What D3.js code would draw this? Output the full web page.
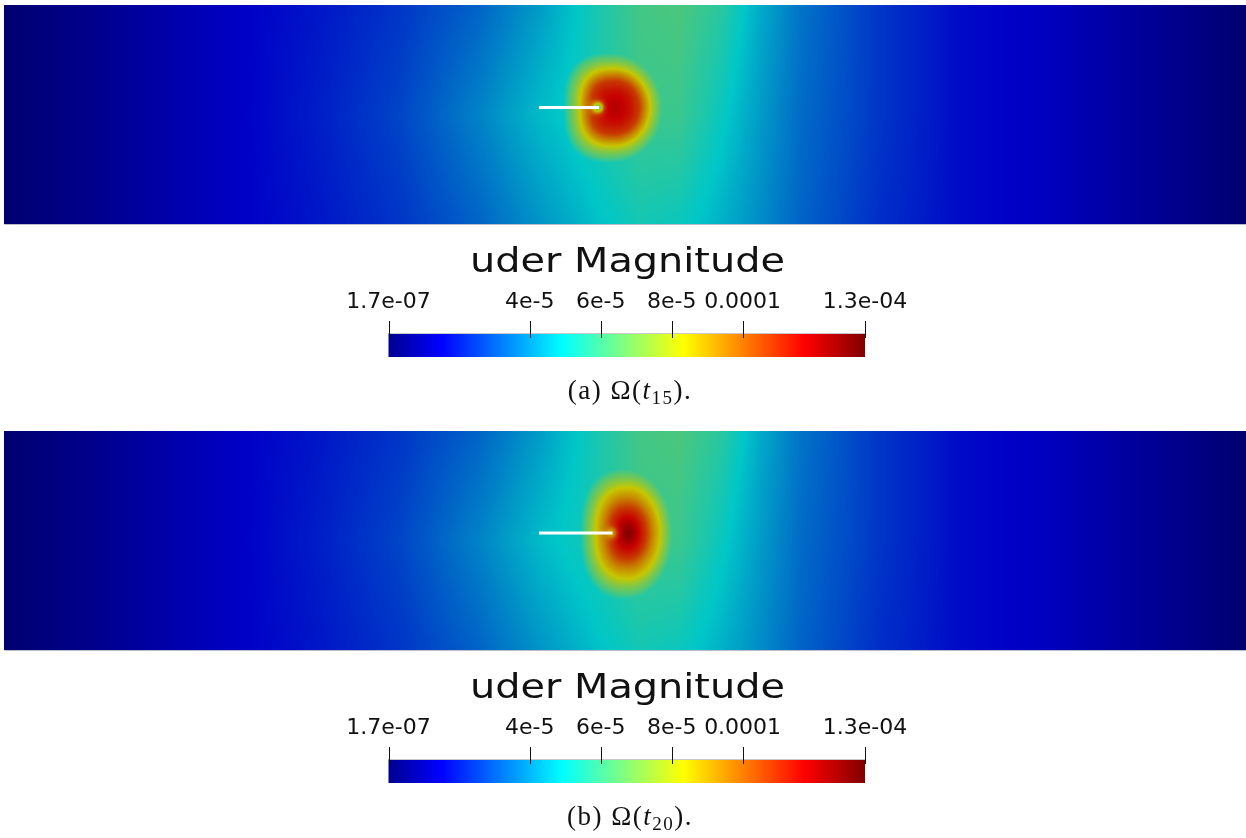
<!DOCTYPE html>
<html>
<head>
<meta charset="utf-8">
<script src="https://cdn.jsdelivr.net/npm/d3@7"></script>
<style>
body{margin:0;background:#fff;}
#wrap{position:relative;width:1246px;height:838px;}
#wrap canvas, #wrap svg{position:absolute;left:0;top:0;}
</style>
</head>
<body>
<div id="wrap"></div>
<script>

// all magnitudes in units of 1e-5
var vMin = 0.017, vMax = 13.45;
var tickValues = [4, 6, 8, 10];
var tickLabels = ["4e-5", "6e-5", "8e-5", "0.0001"];
var endLabels = ["1.7e-07", "1.3e-04"];
var titleText = "uder Magnitude";

// jet colormap (fraction of range -> colour)
var jetStops = [0, 0.111, 0.365, 0.492, 0.619, 0.873, 1];
var jetColors = ["#00008f", "#0000ff", "#00ffff", "#80ff80", "#ffff00", "#ff0000", "#800000"];

// beam is 100 x 17.6 (arbitrary length units), y measured from bottom
var beamW = 100, beamH = 17.6;

// far field, sampled along the beam at three heights (bottom, middle, top)
var bgX   = [0, 7.7, 19, 25.4, 31.9, 38.3, 43.1, 48, 51.2, 54.4, 57.6, 60.9, 64.1, 70.5, 77, 83.4, 89.9, 94.7, 100];
var bgRowY = [0, 8.8, 17.6];
var bgBot = [0.02, 0.54, 1.48, 1.88, 2.42, 3.23, 4.04, 4.84, 5.25, 5.11, 4.57, 3.90, 3.23, 2.29, 1.68, 1.41, 0.87, 0.47, 0.02];
var bgMid = [0.02, 0.54, 1.48, 2.02, 2.69, 3.77, 4.71, 5.38, 5.92, 5.92, 5.11, 4.17, 3.36, 2.42, 1.68, 1.41, 0.87, 0.47, 0.02];
var bgTop = [0.02, 0.54, 1.48, 1.88, 2.42, 3.23, 4.17, 5.38, 6.05, 6.19, 5.65, 4.44, 3.50, 2.42, 1.68, 1.41, 0.87, 0.47, 0.02];

// crack (start, tip) and the hot spot ahead of the tip
var crackA = [[43.05, 9.37], [47.9, 9.37]];
var crackB = [[43.05, 9.4], [48.97, 9.4]];
var peakCenterA = [49.17, 9.37];
var peakCenterB = [50.22, 9.4];
var peakRA = [0, 0.64, 1.29, 1.93, 2.42, 2.82, 3.22, 3.71, 4.51, 6.44];
var peakVA = [12.1, 11.84, 11.43, 10.76, 9.42, 8.34, 7.26, 6.2, 4.0, 0.02];
var peakRB = [0, 0.4, 0.89, 1.45, 2.01, 2.58, 2.98, 3.46, 4.27, 6.44];
var peakVB = [13.03, 12.5, 11.7, 10.76, 9.42, 8.34, 7.26, 6.2, 4.0, 0.02];
// vertical stretch, flatness of the back side, dip at the crack tip (depth, width)
var peakStretch = [1.1, 1.42];
var backFlat = [2.7, 2.4];
var notchA = [2.09, 0.54];
var notchB = [0.97, 0.48];

var captions = [["(a) ", "Ω(", "t", "15", ")."], ["(b) ", "Ω(", "t", "20", ")."]];

var panels = [
  {crack: crackA, center: peakCenterA, r: peakRA, v: peakVA, stretch: peakStretch[0], flat: backFlat[0], notch: notchA, caption: captions[0], dy: 0},
  {crack: crackB, center: peakCenterB, r: peakRB, v: peakVB, stretch: peakStretch[1], flat: backFlat[1], notch: notchB, caption: captions[1], dy: 426}
];

var W = 1246, H = 838;
var shade = 0.78;   // lighting on the rendered surface

var wrap = d3.select("#wrap");
var canvas = wrap.append("canvas").attr("width", W).attr("height", H);
var ctx = canvas.node().getContext("2d");
var svg = wrap.append("svg").attr("width", W).attr("height", H);

var color = d3.scaleLinear()
  .domain(jetStops.map(function(s){ return vMin + s * (vMax - vMin); }))
  .range(jetColors)
  .interpolate(d3.interpolateRgb)
  .clamp(true);

// lookup table
var lutN = 1024, lut = [];
for (var k = 0; k < lutN; k++) {
  lut.push(d3.rgb(color(vMin + k / (lutN - 1) * (vMax - vMin))));
}
var lutIndex = d3.scaleLinear().domain([vMin, vMax]).rangeRound([0, lutN - 1]).clamp(true);

var rowScales = [bgBot, bgMid, bgTop].map(function(row){
  return d3.scaleLinear().domain(bgX).range(row);
});

panels.forEach(function(p){
  var x = d3.scaleLinear().domain([0, beamW]).range([4.5, 1246]);
  var y = d3.scaleLinear().domain([0, beamH]).range([224 + p.dy, 5 + p.dy]);
  var peak = d3.scaleLinear().domain(p.r).range(p.v).clamp(true);

  var x0 = 4, x1 = 1246, y0 = 5 + p.dy, y1 = 224 + p.dy;
  var w = x1 - x0, h = y1 - y0;
  var img = ctx.createImageData(w, h);
  var tip = p.crack[1];

  for (var i = 0; i < w; i++) {
    var u = x.invert(x0 + i + 0.5);
    var col = d3.scaleLinear().domain(bgRowY).range(rowScales.map(function(s){ return s(u); }));
    for (var j = 0; j < h; j++) {
      var v = y.invert(y0 + j + 0.5);
      var bg = col(v);
      var dx = Math.abs(u - p.center[0]), dyy = Math.abs(v - p.center[1]) / p.stretch;
      var r;
      if (u < p.center[0]) {
        r = Math.pow(Math.pow(dx, p.flat) + Math.pow(dyy, p.flat), 1 / p.flat);
      } else {
        r = Math.sqrt(dx * dx + dyy * dyy);
      }
      var tx = u - tip[0], ty = v - tip[1];
      var dt = Math.sqrt(tx * tx + ty * ty) / p.notch[1];
      r += p.notch[0] * Math.exp(-dt * dt);
      var val = Math.max(bg, peak(r));
      var c = lut[lutIndex(val)];
      var o = (j * w + i) * 4;
      img.data[o] = c.r * shade;
      img.data[o + 1] = c.g * shade;
      img.data[o + 2] = c.b * shade;
      img.data[o + 3] = 255;
    }
  }
  ctx.putImageData(img, x0, y0);

  var g = svg.append("g");

  // faint mesh edge at the bottom
  g.append("line")
    .attr("x1", x(0)).attr("x2", x(beamW))
    .attr("y1", y(0) + 0.5).attr("y2", y(0) + 0.5)
    .attr("stroke", "#b8bccb").attr("stroke-width", 1);

  // crack
  g.append("line")
    .attr("x1", x(p.crack[0][0])).attr("y1", y(p.crack[0][1]))
    .attr("x2", x(p.crack[1][0])).attr("y2", y(p.crack[1][1]))
    .attr("stroke", "#ffffff")
    .attr("stroke-width", 3);

  // colour bar
  var cb = d3.scaleLinear().domain([vMin, vMax]).range([388.5, 865]);
  var gradId = "grad" + p.dy;
  var grad = svg.append("defs").append("linearGradient")
    .attr("id", gradId).attr("x1", "0%").attr("x2", "100%");
  grad.selectAll("stop").data(jetStops).enter().append("stop")
    .attr("offset", function(d){ return (d * 100) + "%"; })
    .attr("stop-color", function(d, i){ return jetColors[i]; });

  g.append("rect")
    .attr("x", cb.range()[0]).attr("y", 333 + p.dy)
    .attr("width", cb.range()[1] - cb.range()[0]).attr("height", 24)
    .attr("fill", "url(#" + gradId + ")");
  g.append("line")
    .attr("x1", cb.range()[0]).attr("x2", cb.range()[1])
    .attr("y1", 333.5 + p.dy).attr("y2", 333.5 + p.dy)
    .attr("stroke", "#c9c9c9").attr("stroke-width", 1);

  var allTicks = [vMin].concat(tickValues).concat([vMax]);
  var allLabels = [endLabels[0]].concat(tickLabels).concat([endLabels[1]]);

  g.selectAll(".tick").data(allTicks).enter().append("line")
    .attr("x1", function(d){ return Math.round(cb(d)) + 0.5; })
    .attr("x2", function(d){ return Math.round(cb(d)) + 0.5; })
    .attr("y1", 321 + p.dy).attr("y2", 338 + p.dy)
    .attr("stroke", "#111").attr("stroke-width", 1);

  g.selectAll(".lab").data(allTicks).enter().append("text")
    .attr("x", function(d){ return cb(d); })
    .attr("y", 308 + p.dy)
    .attr("text-anchor", "middle")
    .attr("font-family", "DejaVu Sans")
    .attr("font-size", 22)
    .attr("fill", "#111")
    .text(function(d, i){ return allLabels[i]; });

  g.append("text")
    .attr("x", 627.5).attr("y", 272 + p.dy)
    .attr("text-anchor", "middle")
    .attr("font-family", "DejaVu Sans")
    .attr("font-size", 34)
    .attr("textLength", 315)
    .attr("lengthAdjust", "spacingAndGlyphs")
    .attr("fill", "#111")
    .text(titleText);

  var cap = g.append("text")
    .attr("x", 630).attr("y", 399 + p.dy)
    .attr("text-anchor", "middle")
    .attr("font-family", "Liberation Serif")
    .attr("font-size", 27)
    .attr("letter-spacing", 1.5)
    .attr("fill", "#111");
  cap.append("tspan").text(p.caption[0] + p.caption[1]);
  cap.append("tspan").attr("font-style", "italic").text(p.caption[2]);
  cap.append("tspan").attr("font-size", 19).attr("dy", 5).text(p.caption[3]);
  cap.append("tspan").attr("dy", -5).text(p.caption[4]);
});

</script>
</body>
</html>
